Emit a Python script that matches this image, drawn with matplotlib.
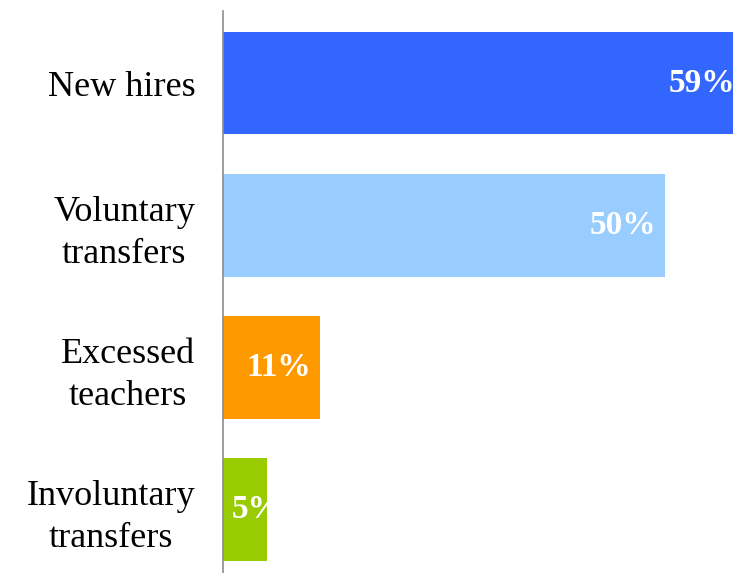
import matplotlib
matplotlib.use("Agg")
import matplotlib.pyplot as plt
from matplotlib import transforms

categories = ["New hires", "Voluntary\ntransfers", "Excessed\nteachers", "Involuntary\ntransfers"]
values = [59, 50, 11, 5]
labels = ["59%", "50%", "11%", "5%"]
colors = ["#3366FF", "#99CCFF", "#FF9900", "#99CC00"]

plt.rcParams["font.family"] = ["Liberation Serif", "DejaVu Serif"]

W, H = 733, 573
fig = plt.figure(figsize=(W / 100, H / 100), dpi=100)
ax_left, ax_top = 223, 11
px_per_unit = 8.84
x_max = 60
ax = fig.add_axes([ax_left / W, 0, x_max * px_per_unit / W, (H - ax_top) / H])

y = list(range(len(categories)))
ax.barh(y, values, height=0.725, color=colors, edgecolor="none")
ax.set_xlim(0, x_max)
ax.set_ylim(3.45, -0.507)

for spine in ["top", "right", "bottom"]:
    ax.spines[spine].set_visible(False)
ax.spines["left"].set_color("#8C8C8C")
ax.spines["left"].set_linewidth(1.2)
ax.set_xticks([])
ax.set_yticks(y)
ax.set_yticklabels(categories, fontsize=26, multialignment="center", linespacing=1.35)
ax.tick_params(axis="y", length=0, pad=20)

for yi, v, lab in zip(y, values, labels):
    if v >= 10:
        off = transforms.offset_copy(ax.transData, fig=fig, x=-9, y=0, units="dots")
        ax.text(v, yi, lab, transform=off, ha="right", va="center",
                color="white", fontsize=24, fontweight="bold")
    else:
        off = transforms.offset_copy(ax.transData, fig=fig, x=9, y=0, units="dots")
        ax.text(0, yi, lab, transform=off, ha="left", va="center",
                color="white", fontsize=24, fontweight="bold")

fig.savefig("out.png", dpi=100)
